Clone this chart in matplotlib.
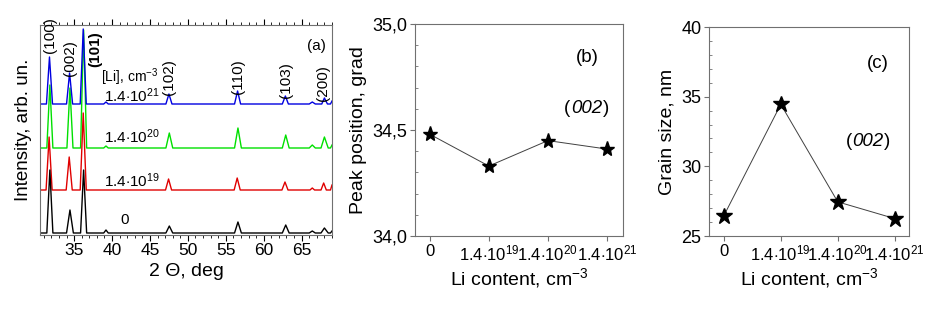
import numpy as np
import matplotlib.pyplot as plt
from matplotlib.ticker import MultipleLocator

plt.rcParams['font.family'] = ['Liberation Sans', 'DejaVu Sans']
plt.rcParams['mathtext.fontset'] = 'custom'
plt.rcParams['mathtext.rm'] = 'Liberation Sans'
plt.rcParams['mathtext.it'] = 'Liberation Sans:italic'

# ---- panel (a): XRD patterns, polylines (2theta, intensity) ----
xrd_black_x = [30.5, 31.4, 31.8, 32.2, 34.0, 34.45, 34.9, 35.85, 36.25, 36.65, 38.9, 39.2, 39.5,
               47.1, 47.55, 48.0, 56.15, 56.6, 57.05, 62.45, 62.9, 63.35, 66.0, 66.4, 66.8,
               67.55, 68.0, 68.5, 68.8, 69.0]
xrd_black_y = [2, 2, 65, 2, 2, 25, 2, 2, 65, 2, 2, 5, 2,
               2, 9, 2, 2, 13, 2, 2, 10, 2, 2, 4, 2,
               2, 7, 2, 2, 4]
xrd_red_x = [30.5, 31.3, 31.7, 32.1, 33.95, 34.35, 34.75, 35.8, 36.2, 36.6,
             47.05, 47.45, 47.85, 56.1, 56.5, 56.9, 62.4, 62.8, 63.2, 66.1, 66.4, 66.7,
             67.55, 67.9, 68.25, 68.8, 69.0]
xrd_red_y = [45, 45, 98, 45, 45, 78, 45, 45, 122, 45,
             45, 56, 45, 45, 57, 45, 45, 53, 45, 45, 47, 45,
             45, 52, 45, 45, 50]
xrd_green_x = [30.5, 31.4, 31.8, 32.2, 34.05, 34.45, 34.85, 35.85, 36.25, 36.65, 38.9, 39.2, 39.5,
               47.1, 47.55, 48.0, 56.15, 56.6, 57.05, 62.45, 62.9, 63.35, 66.0, 66.4, 66.8,
               67.55, 68.0, 68.5, 68.8, 69.0]
xrd_green_y = [87, 87, 150, 87, 87, 147, 87, 87, 205, 87, 87, 89, 87,
               87, 102, 87, 87, 107, 87, 87, 100, 87, 87, 90, 87,
               87, 98, 87, 87, 90]
xrd_blue_x = [30.5, 31.35, 31.75, 32.15, 34.0, 34.4, 34.8, 35.8, 36.2, 36.6, 38.9, 39.2, 39.5,
              47.1, 47.5, 47.9, 56.15, 56.55, 56.95, 62.45, 62.85, 63.25, 66.0, 66.4, 66.8,
              67.65, 68.0, 68.4, 68.8, 69.0]
xrd_blue_y = [131, 131, 178, 131, 131, 162, 131, 131, 206, 131, 131, 133, 131,
              131, 141, 131, 131, 144, 131, 131, 139, 131, 131, 133, 131,
              131, 137, 131, 131, 134]

# peak labels (hkl) and where they sit
hkl_labels = ['(100)', '(002)', '(101)', '(102)', '(110)', '(103)', '(200)']
hkl_x = [31.85, 34.5, 37.8, 47.5, 56.6, 62.9, 67.8]
hkl_y = [200, 177, 186, 158, 158, 155, 152]

conc_labels = [r'$1.4{\cdot}10^{21}$', r'$1.4{\cdot}10^{20}$', r'$1.4{\cdot}10^{19}$', '0']
conc_x = [42.6, 42.6, 42.6, 41.7]
conc_y = [139, 98, 54, 15]

# ---- panels (b), (c) ----
li_ticks = ['0', r'$1.4{\cdot}10^{19}$', r'$1.4{\cdot}10^{20}$', r'$1.4{\cdot}10^{21}$']
peak_position = [34.48, 34.33, 34.45, 34.41]
grain_size = [26.45, 34.45, 27.45, 26.25]

fig = plt.figure(figsize=(9.53, 3.13), dpi=100)
W, H = 953, 313


def add_ax(l, t, r, b):
    return fig.add_axes([l / W, 1 - b / H, (r - l) / W, (b - t) / H])


def hkl_italic(a, x, y, size=13):
    # "(002)" with upright brackets and italic digits
    a.text(x, y, '002', style='italic', fontsize=size, ha='center', va='center')
    half = 3 * 0.556 * size / 2
    a.annotate('(', (x, y), xytext=(-half - 0.5, 0), textcoords='offset points',
               fontsize=size, ha='right', va='center')
    a.annotate(')', (x, y), xytext=(half + 0.5, 0), textcoords='offset points',
               fontsize=size, ha='left', va='center')


frame_col = '#707070'

# panel (a)
ax = add_ax(40, 25, 332, 235)
for xs, ys, c in [(xrd_green_x, xrd_green_y, '#00e000'), (xrd_red_x, xrd_red_y, '#e00000'),
                  (xrd_black_x, xrd_black_y, 'black'), (xrd_blue_x, xrd_blue_y, '#0000e0')]:
    ax.plot(xs, ys, color=c, lw=1.0)
ax.set_xlim(30.5, 69)
ax.set_ylim(0, 210)
ax.set_yticks([])
ax.xaxis.set_minor_locator(MultipleLocator(1))
ax.tick_params(axis='x', which='both', direction='out', top=True, labelsize=12.5, colors='black',
               pad=2)
ax.tick_params(axis='x', which='major', length=4)
ax.tick_params(axis='x', which='minor', length=2.5)
ax.set_xticks(range(35, 70, 5))
for s in ax.spines.values():
    s.set_color(frame_col)
ax.set_xlabel('2 Θ, deg', fontsize=14, labelpad=3)
ax.set_ylabel('Intensity, arb. un.', fontsize=13.5, labelpad=6)
for lab, x, y in zip(hkl_labels, hkl_x, hkl_y):
    ax.text(x, y, lab, rotation=90, ha='center', va='center', fontsize=11,
            fontweight='bold' if lab == '(101)' else 'normal', clip_on=False)
ax.text(38.6, 158, r'[Li], cm$^{-3}$', fontsize=10, ha='left', va='center')
for lab, x, y in zip(conc_labels, conc_x, conc_y):
    ax.text(x, y, lab, fontsize=11, ha='center', va='center')
ax.text(66.9, 189, '(a)', fontsize=11, ha='center', va='center')

# panel (b)
axb = add_ax(415, 24, 623, 236)
axb.plot(range(4), peak_position, color='#404040', lw=0.7, marker='*', ms=11,
         mfc='black', mec='black')
axb.set_xlim(-0.25, 3.27)
axb.set_ylim(34.0, 35.0)
axb.set_yticks([34.0, 34.5, 35.0])
axb.set_yticklabels(['34,0', '34,5', '35,0'])
axb.yaxis.set_minor_locator(MultipleLocator(0.1))
axb.set_xticks(range(4))
axb.set_xticklabels(li_ticks)
axb.set_ylabel('Peak position, grad', fontsize=14)
axb.set_xlabel(r'Li content, cm$^{-3}$', fontsize=14, labelpad=2)
axb.text(2.66, 34.84, '(b)', fontsize=13.5, ha='center', va='center')
hkl_italic(axb, 2.66, 34.60, 13.5)

# panel (c)
axc = add_ax(709, 27, 909, 236)
axc.plot(range(4), grain_size, color='#404040', lw=0.7, marker='*', ms=12,
         mfc='black', mec='black')
axc.set_xlim(-0.26, 3.25)
axc.set_ylim(25, 40)
axc.set_yticks([25, 30, 35, 40])
axc.yaxis.set_minor_locator(MultipleLocator(1))
axc.set_xticks(range(4))
axc.set_xticklabels(li_ticks)
axc.set_ylabel('Grain size, nm', fontsize=14)
axc.set_xlabel(r'Li content, cm$^{-3}$', fontsize=14, labelpad=2)
axc.text(2.70, 37.4, '(c)', fontsize=13.5, ha='center', va='center')
hkl_italic(axc, 2.53, 31.75, 13.5)

for a in (axb, axc):
    for s in a.spines.values():
        s.set_color(frame_col)
    a.tick_params(axis='both', which='major', direction='out', length=3.5, labelsize=13,
                  color=frame_col, labelcolor='black', pad=2)
    a.tick_params(axis='y', which='minor', direction='in', length=2, color=frame_col)
    a.tick_params(axis='x', which='major', labelsize=12)

fig.savefig('out.png', dpi=100, facecolor='white')
